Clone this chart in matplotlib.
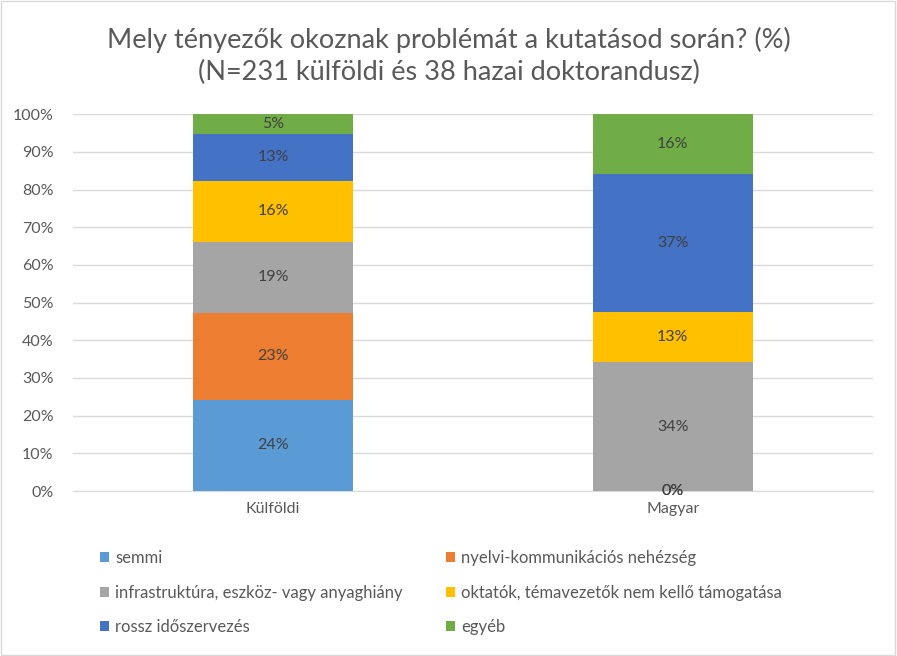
import matplotlib.pyplot as plt
from matplotlib.patches import Rectangle

plt.rcParams['font.family'] = ['Lato', 'DejaVu Sans']

categories = ['Külföldi', 'Magyar']
series = ['semmi', 'nyelvi-kommunikációs nehézség',
          'infrastruktúra, eszköz- vagy anyaghiány',
          'oktatók, témavezetők nem kellő támogatása',
          'rossz időszervezés', 'egyéb']
semmi = [24.2, 0.0]
nyelvi = [23.0, 0.0]
infra = [19.0, 34.2]
oktatok = [16.0, 13.2]
rossz = [12.6, 36.8]
egyeb = [5.2, 15.8]
values = [semmi, nyelvi, infra, oktatok, rossz, egyeb]
colors = ['#5b9bd5', '#ed7d31', '#a5a5a5', '#ffc000', '#4472c4', '#70ad47']

fig = plt.figure(figsize=(8.97, 6.56), dpi=100)
ax = fig.add_axes([0.0814, 0.2515, 0.8916, 0.5745])

x = range(len(categories))
bottom = [0.0, 0.0]
handles = []
for name, vals, col in zip(series, values, colors):
    bars = ax.bar(x, vals, 0.4, bottom=bottom, color=col, label=name, zorder=3)
    handles.append(bars)
    for i, v in enumerate(vals):
        ax.text(i, bottom[i] + v / 2, f'{round(v)}%', ha='center', va='center',
                fontsize=11.5, color='#404040', zorder=4)
    bottom = [b + v for b, v in zip(bottom, vals)]

ax.set_xlim(-0.5, 1.5)
ax.set_ylim(0, 100)
ax.set_yticks(range(0, 101, 10))
ax.set_yticklabels([f'{t}%' for t in range(0, 101, 10)])
ax.set_xticks(list(x))
ax.set_xticklabels(categories)
ax.grid(axis='y', color='#d9d9d9', linewidth=1, zorder=0)
for s in ['top', 'right', 'left']:
    ax.spines[s].set_visible(False)
ax.spines['bottom'].set_color('#d9d9d9')
ax.tick_params(length=0, labelsize=11.5, labelcolor='#595959')
ax.tick_params(axis='y', pad=14)
ax.tick_params(axis='x', pad=8)

fig.text(0.5, 0.915, 'Mely tényezők okoznak problémát a kutatásod során? (%)\n'
         '(N=231 külföldi és 38 hazai doktorandusz)',
         ha='center', va='center', fontsize=19.5, color='#595959', linespacing=1.35)

# legend fills column by column, reorder to get row-major layout
order = [0, 2, 4, 1, 3, 5]
fig.legend(handles=[handles[k] for k in order], loc='upper left',
           bbox_to_anchor=(0.095, 0.184),
           ncol=2, frameon=False, fontsize=12, labelcolor='#595959',
           handlelength=0.55, handleheight=0.55, handletextpad=0.35,
           columnspacing=2.6, labelspacing=1.1)

fig.patches.append(Rectangle((0.001, 0.001), 0.997, 0.997, transform=fig.transFigure,
                             fill=False, edgecolor='#d9d9d9', linewidth=1))

fig.savefig('out.png', dpi=100)
